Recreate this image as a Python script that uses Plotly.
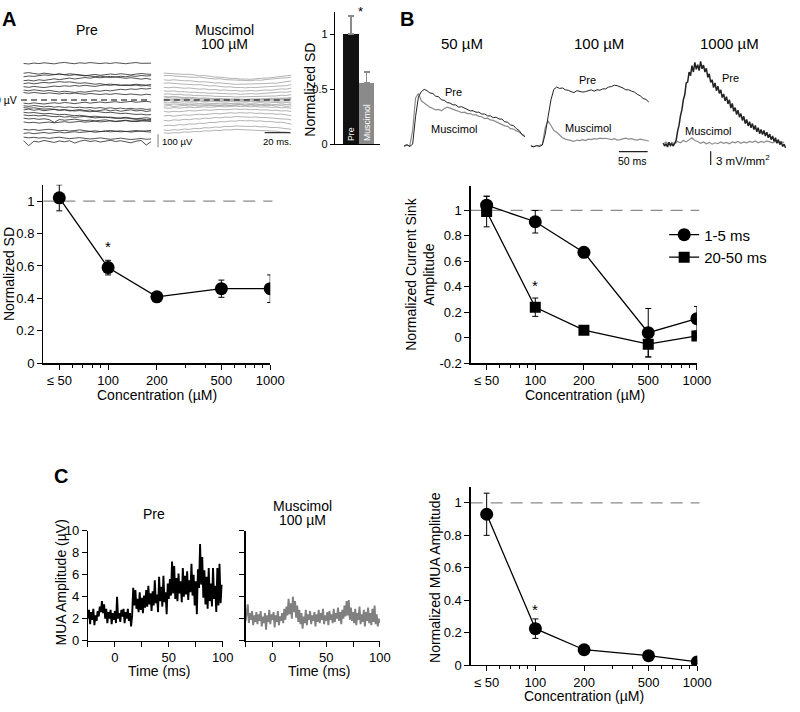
import plotly.graph_objects as go
import math

W, H = 800, 712
FONT = "Liberation Sans, Arial, sans-serif"

# ---------------- data ----------------
conc = [50, 100, 200, 500, 1000]
conc_labels = ["≤ 50", "100", "200", "500", "1000"]
conc_minor = [60, 70, 80, 90, 300, 400, 600, 700, 800, 900]

sd_mean = [1.02, 0.59, 0.41, 0.46, 0.46]
sd_err = [0.08, 0.045, 0.012, 0.053, 0.085]

sink_early = [1.04, 0.91, 0.67, 0.04, 0.15]
sink_early_err = [0.07, 0.088, 0.012, 0.19, 0.096]
sink_late = [0.99, 0.24, 0.06, -0.05, 0.015]
sink_late_err = [0.12, 0.072, 0.012, 0.10, 0.02]

mua_norm = [0.93, 0.225, 0.095, 0.058, 0.02]
mua_norm_err = [0.13, 0.06, 0.01, 0.01, 0.01]

bar_labels = ["Pre", "Muscimol"]
bar_values = [1.0, 0.558]
bar_err = [0.164, 0.095]

# A: example LFP sweeps (µV), sampled every 4 ms over 0-100 ms
sweep_t = [0, 4, 8, 12, 16, 20, 24, 28, 32, 36, 40, 44, 48, 52, 56, 60, 64, 68, 72, 76, 80, 84, 88, 92, 96, 100]
pre_sweeps = [
    [280, 276, 283, 279, 285, 281, 277, 284, 288, 282, 278, 285, 281, 287, 283, 279, 284, 280, 286, 282, 278, 283, 287, 281, 279, 282],
    [205, 210, 203, 198, 206, 201, 195, 199, 192, 188, 194, 190, 185, 191, 196, 189, 193, 199, 195, 201, 197, 192, 198, 203, 199, 196],
    [178, 184, 181, 187, 192, 189, 195, 199, 194, 201, 197, 192, 188, 184, 179, 183, 176, 172, 177, 170, 166, 171, 164, 160, 165, 158],
    [148, 152, 146, 155, 150, 158, 162, 156, 163, 168, 161, 166, 172, 167, 174, 170, 177, 181, 175, 182, 178, 185, 181, 188, 184, 186],
    [126, 131, 124, 129, 135, 130, 137, 141, 136, 139, 133, 128, 132, 126, 121, 125, 118, 122, 116, 112, 117, 110, 114, 108, 111, 106],
    [102, 97, 104, 99, 95, 101, 107, 103, 109, 105, 111, 106, 113, 108, 104, 111, 116, 112, 118, 114, 110, 116, 121, 117, 114, 119],
    [76, 71, 78, 73, 68, 74, 66, 61, 67, 62, 58, 64, 60, 66, 71, 67, 74, 70, 77, 82, 78, 85, 81, 88, 84, 90],
    [57, 52, 58, 54, 49, 55, 51, 46, 52, 48, 53, 49, 44, 50, 46, 42, 47, 43, 49, 45, 41, 46, 42, 38, 44, 40],
    [-24, -29, -22, -27, -31, -25, -21, -26, -19, -23, -28, -22, -17, -24, -20, -15, -21, -18, -13, -19, -15, -11, -17, -14, -10, -16],
    [-44, -49, -42, -47, -53, -48, -55, -51, -57, -53, -59, -55, -61, -57, -63, -58, -64, -60, -66, -62, -68, -64, -70, -66, -72, -69],
    [-58, -63, -60, -66, -70, -67, -73, -77, -74, -80, -84, -81, -87, -90, -86, -92, -97, -94, -100, -104, -101, -107, -111, -108, -114, -112],
    [-76, -70, -79, -73, -82, -77, -71, -80, -75, -84, -78, -73, -81, -76, -85, -79, -74, -83, -77, -86, -80, -75, -84, -79, -88, -82],
    [-94, -99, -96, -102, -106, -103, -109, -113, -110, -116, -120, -117, -123, -127, -124, -130, -134, -131, -137, -141, -138, -144, -148, -145, -151, -149],
    [-114, -120, -117, -122, -118, -124, -128, -125, -131, -127, -133, -129, -126, -132, -137, -134, -130, -136, -141, -137, -133, -139, -144, -140, -136, -142],
    [-139, -145, -142, -148, -144, -150, -172, -149, -155, -151, -147, -153, -158, -154, -160, -156, -152, -158, -163, -159, -155, -161, -166, -162, -158, -165],
    [-168, -174, -171, -177, -173, -169, -175, -170, -166, -172, -168, -164, -170, -166, -162, -168, -164, -160, -166, -162, -158, -164, -160, -156, -162, -158],
    [-224, -230, -226, -233, -228, -224, -231, -236, -232, -238, -234, -229, -235, -240, -236, -242, -238, -233, -239, -244, -240, -246, -241, -237, -243, -246],
    [-256, -251, -258, -253, -249, -255, -250, -246, -252, -247, -243, -249, -245, -241, -247, -243, -238, -244, -240, -236, -242, -238, -234, -240, -236, -233],
    [-284, -290, -286, -292, -288, -294, -289, -285, -291, -296, -292, -288, -294, -299, -295, -290, -296, -301, -297, -292, -298, -303, -299, -295, -301, -298],
    [-312, -350, -316, -322, -310, -318, -325, -314, -320, -312, -330, -316, -308, -318, -312, -322, -315, -309, -318, -312, -320, -328, -316, -310, -345, -318],
]
mus_sweeps = [
    [206, 203, 205, 199, 196, 197, 190, 186, 187, 180, 176, 175, 169, 166, 165, 160, 161, 158, 163, 166, 164, 171, 176, 178, 185, 191],
    [186, 189, 184, 181, 183, 176, 173, 175, 168, 165, 162, 163, 156, 155, 151, 149, 152, 148, 153, 151, 157, 158, 164, 168, 169, 176],
    [154, 151, 155, 150, 147, 148, 142, 139, 140, 133, 130, 131, 125, 124, 120, 121, 117, 119, 123, 120, 126, 129, 128, 135, 139, 146],
    [128, 131, 127, 124, 126, 119, 116, 118, 111, 108, 109, 102, 100, 101, 95, 96, 93, 97, 95, 99, 102, 100, 107, 111, 110, 118],
    [97, 94, 98, 94, 90, 92, 85, 83, 85, 79, 80, 75, 77, 71, 73, 68, 70, 73, 69, 73, 77, 75, 81, 85, 83, 92],
    [70, 67, 70, 63, 64, 59, 60, 55, 56, 51, 53, 49, 50, 46, 48, 44, 46, 49, 46, 49, 53, 51, 57, 61, 59, 66],
    [45, 47, 42, 44, 38, 39, 34, 35, 31, 32, 28, 29, 25, 26, 23, 24, 23, 26, 25, 28, 28, 32, 31, 36, 35, 41],
    [28, 24, 27, 22, 19, 21, 17, 14, 16, 12, 10, 12, 9, 7, 9, 6, 5, 8, 7, 10, 9, 13, 12, 16, 15, 20],
    [15, 18, 14, 16, 11, 13, 9, 10, 6, 8, 5, 6, 3, 4, 1, 3, 2, 5, 3, 6, 5, 8, 7, 11, 9, 13],
    [3, 6, 1, 4, 0, 2, -2, 1, -3, 0, -4, -1, -5, -2, -6, -3, -4, -1, -3, 0, -2, 2, 0, 4, 2, 5],
    [-8, -5, -10, -6, -11, -8, -12, -9, -13, -10, -14, -11, -15, -12, -15, -12, -14, -11, -13, -10, -12, -8, -10, -7, -9, -6],
    [-19, -23, -18, -22, -25, -21, -24, -27, -23, -26, -28, -24, -27, -25, -28, -25, -22, -26, -23, -20, -24, -21, -18, -22, -19, -22],
    [-31, -35, -30, -34, -37, -33, -36, -39, -35, -38, -36, -39, -37, -40, -37, -34, -38, -35, -32, -36, -33, -37, -34, -31, -35, -32],
    [-47, -43, -49, -45, -42, -46, -43, -47, -44, -41, -45, -42, -39, -43, -40, -37, -41, -38, -42, -39, -44, -41, -46, -43, -48, -46],
    [-60, -64, -58, -62, -59, -55, -59, -56, -52, -56, -53, -49, -53, -50, -47, -51, -48, -52, -50, -54, -52, -57, -55, -60, -58, -63],
    [-88, -92, -86, -90, -86, -81, -84, -80, -76, -79, -75, -72, -75, -71, -69, -72, -70, -74, -72, -77, -75, -80, -78, -84, -82, -89],
    [-122, -118, -124, -119, -114, -117, -112, -109, -112, -107, -103, -106, -101, -98, -101, -97, -100, -98, -103, -101, -106, -104, -109, -108, -114, -120],
    [-156, -160, -152, -155, -148, -151, -144, -146, -139, -141, -134, -137, -130, -133, -127, -130, -128, -132, -130, -135, -134, -139, -139, -145, -146, -153],
    [-197, -193, -197, -189, -191, -184, -185, -178, -179, -172, -173, -166, -167, -161, -162, -157, -160, -158, -162, -160, -166, -165, -171, -170, -177, -186],
    [-230, -233, -227, -230, -223, -225, -218, -220, -212, -214, -207, -209, -202, -204, -199, -201, -199, -203, -201, -206, -205, -211, -210, -216, -217, -225],
    [-252, -255, -250, -252, -245, -247, -241, -243, -236, -238, -232, -234, -228, -230, -225, -227, -226, -230, -229, -234, -234, -239, -239, -245, -246, -254],
]

# B: current sink traces (mV/mm^2)
b50_t0, b50_step = -15, 5
b50_pre = [0.0, 0.3, -0.1, 0.4, 6.4, 10.7, 11.9, 12.4, 12.1, 11.6, 11.5, 10.9, 10.8, 10.1, 10.0, 9.5, 9.4, 9.0, 9.0, 8.5, 8.6, 8.3,
           8.1, 7.7, 7.7, 7.4, 7.4, 7.0, 7.0, 6.6, 6.6, 6.2, 6.3, 5.9, 5.9, 5.3, 5.2, 4.6, 4.5, 3.8, 3.4, 2.5, 2.0]
b50_mus = [-0.1, 0.2, 0.0, 3.5, 10.5, 11.5, 9.9, 9.4, 9.0, 8.5, 8.2, 7.9, 8.0, 7.7, 8.2, 8.5, 8.3, 8.0, 7.8, 7.6, 7.3, 7.4,
           7.1, 7.1, 6.8, 6.8, 6.5, 6.4, 6.0, 6.1, 5.7, 5.6, 5.3, 5.0, 4.8, 4.4, 4.3, 3.8, 3.7, 3.3, 3.1, 2.5, 2.3]
b100_t0, b100_step = -20, 5
b100_pre = [0.0, -0.2, 0.1, -0.1, 0.2, 2.6, 6.4, 10.1, 12.4, 12.9, 12.6, 12.7, 12.3, 12.2, 11.9, 11.7, 12.1, 12.0, 11.8, 11.9, 12.1,
            12.3, 12.0, 12.3, 12.2, 12.5, 12.5, 12.9, 13.0, 13.3, 13.2, 13.0, 12.7, 12.3, 12.3, 12.0, 11.8, 11.3, 11.0, 10.4, 10.2, 9.6]
b100_mus = [0.1, -0.1, 0.0, 0.2, 0.3, 4.0, 5.5, 4.5, 3.4, 3.0, 2.4, 1.8, 1.5, 1.3, 1.2, 1.0, 1.3, 1.2, 1.4, 1.2, 1.5,
            1.4, 1.6, 1.5, 1.7, 1.6, 1.7, 1.5, 1.4, 1.6, 1.3, 1.4, 1.6, 1.7, 1.5, 1.6, 1.4, 1.3, 1.5, 1.4, 1.2, 1.1]
b1000_t0, b1000_pre_step, b1000_mus_step = -20, 2.5, 5
b1000_pre = [0.6, 0.0, 0.5, -0.2, 0.8, 0.1, 0.5, 0.0, 0.6, 1.2, 3.2, 4.5, 6.6, 7.9, 10.1, 11.2, 13.8, 14.0, 16.2, 15.4,
             17.6, 16.2, 18.3, 16.8, 17.8, 16.5, 18.5, 16.9, 17.7, 16.2, 17.0, 15.0, 15.8, 13.9, 14.5, 12.8, 13.8, 12.1, 13.1, 11.5,
             12.3, 10.6, 11.4, 9.9, 10.8, 9.2, 10.1, 8.3, 9.3, 7.6, 8.4, 6.9, 7.8, 6.3, 7.1, 5.6, 6.5, 4.9, 5.8, 4.4,
             5.3, 4.0, 4.9, 3.6, 4.5, 3.1, 4.0, 2.7, 3.6, 2.5, 3.4, 2.2, 3.0, 1.8, 2.6, 1.4, 2.2, 1.0, 1.8, 0.6,
             1.4, 0.3, 0.9, -0.1, 0.4, -0.4]
b1000_mus = [0.5, 0.9, 0.3, 0.8, 0.5, 1.0, 0.7, 1.2, 0.9, 1.4, 1.8, 1.2, 1.0, 0.6, 0.9, 0.5, 0.8, 0.4, 0.7, 0.5, 0.9, 0.6,
             0.8, 0.5, 0.9, 0.7, 1.0, 0.6, 0.9, 0.7, 1.0, 0.8, 1.1, 0.7, 1.0, 0.8, 1.1, 0.9, 0.7, 1.0, 0.8, 1.0, 0.7]

# C: MUA traces (µV), 1 ms bins from -25 to 100 ms
mua_t0 = -25
mua_pre = [2.0, 2.8, 1.5, 2.6, 1.9, 2.9, 1.4, 2.3, 1.8, 2.7,
           2.2, 3.1, 2.6, 3.6, 2.5, 3.3, 2.0, 2.9, 1.6, 2.6,
           2.0, 2.8, 1.5, 2.5, 1.9, 2.7, 1.6, 4.0, 2.0, 2.5,
           1.7, 2.8, 2.2, 2.9, 1.6, 2.6, 2.0, 2.9, 1.8, 2.5,
           1.3, 2.3, 4.8, 3.2, 4.6, 2.9, 3.8, 2.6, 4.4, 2.8,
           3.9, 2.5, 4.1, 3.0, 4.6, 3.1, 5.0, 3.3, 4.3, 2.7,
           4.5, 3.2, 5.5, 3.4, 4.2, 2.6, 5.8, 3.6, 4.9, 3.1,
           5.9, 3.5, 4.4, 2.4, 5.2, 3.8, 5.6, 4.1, 7.2, 4.3,
           6.8, 3.8, 5.7, 3.6, 6.1, 4.3, 5.4, 3.5, 6.6, 4.0,
           5.9, 4.2, 6.3, 3.7, 5.5, 4.4, 7.0, 4.1, 6.0, 3.2,
           5.4, 2.4, 6.5, 4.8, 8.8, 5.1, 7.6, 3.9, 6.4, 3.3,
           5.8, 2.9, 6.6, 3.6, 5.2, 3.1, 6.6, 3.8, 5.0, 2.6,
           6.6, 3.2, 7.0, 3.4, 5.0, 5.0]
mua_mus = [1.8, 2.6, 3.3, 1.6, 2.5, 1.9, 2.7, 1.4, 2.3, 1.7,
           2.6, 1.5, 2.4, 1.8, 2.7, 1.3, 2.2, 1.6, 2.5, 1.0,
           2.3, 1.7, 2.8, 1.5, 2.4, 1.9, 2.6, 1.2, 2.3, 1.7,
           2.7, 1.4, 2.2, 1.8, 2.5, 1.6, 2.9, 1.9, 3.1, 2.3,
           3.8, 2.4, 3.4, 2.0, 4.0, 2.6, 3.6, 2.1, 3.2, 1.7,
           2.8, 1.5, 2.5, 1.1, 2.2, 1.6, 2.8, 1.4, 2.4, 1.9,
           2.7, 1.5, 2.3, 1.8, 2.6, 1.3, 2.4, 1.7, 2.8, 1.6,
           2.5, 1.9, 2.9, 1.5, 2.3, 1.8, 2.6, 1.4, 2.7, 1.9,
           2.4, 1.6, 2.9, 1.7, 2.5, 2.0, 3.0, 1.8, 2.6, 1.5,
           2.8, 2.0, 3.2, 2.2, 3.6, 2.3, 3.7, 1.9, 3.0, 1.8,
           2.6, 1.6, 2.9, 1.4, 2.5, 1.9, 3.1, 1.5, 2.4, 1.7,
           2.8, 1.3, 2.6, 1.8, 3.0, 1.6, 2.5, 1.4, 2.9, 1.7,
           3.2, 1.5, 2.4, 1.3, 2.0, 1.6]


# ---------------- helpers ----------------
def xdom(a, b):
    return [a / W, b / W]


def ydom(top, bottom):
    return [1 - bottom / H, 1 - top / H]


def PX(x):
    return x / W


def PY(y):
    return 1 - y / H


def times(t0, step, n):
    return [t0 + step * i for i in range(n)]


fig = go.Figure()
layout_axes = {}


def ref(i, kind):
    return kind + ("" if i == 1 else str(i))


def set_axes(i, xa, ya):
    xa = dict(xa)
    ya = dict(ya)
    xa["anchor"] = ref(i, "y")
    ya["anchor"] = ref(i, "x")
    layout_axes[ref(i, "xaxis")] = xa
    layout_axes[ref(i, "yaxis")] = ya


def hidden(dom, rng):
    return dict(domain=dom, range=rng, visible=False, fixedrange=True)


AX = dict(showline=True, linecolor="black", linewidth=1.2, ticks="outside", ticklen=5, tickwidth=1,
          tickcolor="black", showgrid=False, zeroline=False, fixedrange=True,
          tickfont=dict(size=13, color="black", family=FONT))

# ---- A: sweeps ----
A_Y = [-375, 337.5]
set_axes(1, hidden(xdom(21.4, 154), [-2, 100]), hidden(ydom(50, 145), A_Y))
set_axes(2, hidden(xdom(160.2, 296.7), [-5, 100]), hidden(ydom(50, 145), A_Y))
for s in pre_sweeps:
    fig.add_trace(go.Scatter(x=sweep_t, y=s, mode="lines", line=dict(color="#262626", width=0.8),
                             xaxis="x", yaxis="y", showlegend=False, hoverinfo="skip"))
for s in mus_sweeps:
    fig.add_trace(go.Scatter(x=sweep_t, y=s, mode="lines", line=dict(color="#a0a0a0", width=0.8),
                             xaxis="x2", yaxis="y2", showlegend=False, hoverinfo="skip"))

# ---- A: bar ----
set_axes(3,
         dict(domain=xdom(341, 386.7), range=[-1.02, 1.856], showline=True, linecolor="black", linewidth=1.2,
              showticklabels=False, ticks="", showgrid=False, zeroline=False, fixedrange=True),
         dict(AX, domain=ydom(5.2, 140), range=[0, 1.2], tickvals=[0, 0.5, 1], ticktext=["0", "0.5", "1"],
              ticklen=4, tickfont=dict(size=11, color="black", family=FONT)))
fig.add_trace(go.Bar(x=[0, 1], y=bar_values, width=1, marker=dict(color=["#111111", "#8a8a8a"], line=dict(width=0)),
                     error_y=dict(type="data", array=bar_err, color="#8a8a8a", thickness=1.5, width=3, symmetric=False,
                                  arrayminus=[0, 0]),
                     text=bar_labels, textposition="inside", insidetextanchor="start", textangle=-90,
                     insidetextfont=dict(color="white", size=10, family=FONT),
                     xaxis="x3", yaxis="y3", showlegend=False, hoverinfo="skip"))

# ---- concentration-response charts ----
LOGR = [math.log10(39.8), 3.0]
conc_x = dict(AX, type="log", range=LOGR, tickvals=conc, ticktext=conc_labels,
              minor=dict(tickmode="array", tickvals=conc_minor, ticks="outside", ticklen=3, tickcolor="black"))

set_axes(4, dict(conc_x, domain=xdom(44, 275)),
         dict(AX, domain=ydom(181.7, 364), range=[0, 1.1], tickvals=[0, 0.2, 0.4, 0.6, 0.8, 1],
              ticktext=["0", "0.2", "0.4", "0.6", "0.8", "1"]))
set_axes(8, dict(conc_x, domain=xdom(479, 709.3)),
         dict(AX, domain=ydom(182.9, 364), range=[-0.2, 1.19], tickvals=[-0.2, 0, 0.2, 0.4, 0.6, 0.8, 1],
              ticktext=["-0.2", "0", "0.2", "0.4", "0.6", "0.8", "1"]))
set_axes(11, dict(conc_x, domain=xdom(479, 709.7)),
         dict(AX, domain=ydom(490, 672.3), range=[0, 1.1], tickvals=[0, 0.2, 0.4, 0.6, 0.8, 1],
              ticktext=["0", "0.2", "0.4", "0.6", "0.8", "1"]))

EB = dict(type="data", color="black", thickness=1, width=3)


def dose_trace(y, err, axis_i, symbol="circle", size=13, name=None, legend=False):
    return go.Scatter(x=conc, y=y, mode="lines+markers", name=name, showlegend=legend,
                      line=dict(color="black", width=1.3),
                      marker=dict(symbol=symbol, size=size, color="black"),
                      error_y=dict(EB, array=err),
                      xaxis=ref(axis_i, "x"), yaxis=ref(axis_i, "y"), hoverinfo="skip")


fig.add_trace(dose_trace(sd_mean, sd_err, 4))
fig.add_trace(dose_trace(sink_early, sink_early_err, 8, name="1-5 ms", legend=True))
fig.add_trace(dose_trace(sink_late, sink_late_err, 8, symbol="square", size=11, name="20-50 ms", legend=True))
fig.add_trace(dose_trace(mua_norm, mua_norm_err, 11))

# ---- B: sink traces ----
B_Y = [-4.93, 19.71]
set_axes(5, hidden(xdom(405, 540), [-25.6, 204.8]), hidden(ydom(50, 165), B_Y))
set_axes(6, hidden(xdom(535, 670), [-29, 201.4]), hidden(ydom(50, 165), B_Y))
set_axes(7, hidden(xdom(670, 800), [-28.5, 193.3]), hidden(ydom(50, 165), B_Y))

PRE_C, MUS_C = "#222222", "#8c8c8c"
bsets = [
    (5, b50_t0, b50_step, b50_pre, b50_step, b50_mus),
    (6, b100_t0, b100_step, b100_pre, b100_step, b100_mus),
    (7, b1000_t0, b1000_pre_step, b1000_pre, b1000_mus_step, b1000_mus),
]
for i, t0, sp, pre, sm, mus in bsets:
    fig.add_trace(go.Scatter(x=times(t0, sm, len(mus)), y=mus, mode="lines", line=dict(color=MUS_C, width=1.2),
                             xaxis=ref(i, "x"), yaxis=ref(i, "y"), showlegend=False, hoverinfo="skip"))
    fig.add_trace(go.Scatter(x=times(t0, sp, len(pre)), y=pre, mode="lines",
                             line=dict(color=PRE_C, width=1.5 if i == 7 else 1.0),
                             xaxis=ref(i, "x"), yaxis=ref(i, "y"), showlegend=False, hoverinfo="skip"))

# ---- C: MUA traces ----
mua_y = dict(AX, domain=ydom(535, 647.3), range=[0, 10], tickvals=[0, 2, 4, 6, 8, 10])
mua_x = dict(AX, range=[-25, 100], tickvals=[0, 50, 100],
             minor=dict(tickmode="array", tickvals=[-25, 25, 75], ticks="outside", ticklen=5, tickcolor="black"))
set_axes(9, dict(mua_x, domain=xdom(89.5, 226.7)), mua_y)
set_axes(10, dict(mua_x, domain=xdom(250, 386.7)), dict(mua_y, showticklabels=False))
fig.add_trace(go.Scatter(x=times(mua_t0, 1, len(mua_pre)), y=mua_pre, mode="lines", line=dict(color="black", width=1.9),
                         xaxis="x9", yaxis="y9", showlegend=False, hoverinfo="skip"))
fig.add_trace(go.Scatter(x=times(mua_t0, 1, len(mua_mus)), y=mua_mus, mode="lines", line=dict(color="#808080", width=1.9),
                         xaxis="x10", yaxis="y10", showlegend=False, hoverinfo="skip"))

# ---------------- shapes ----------------
shapes = []
dash_gray = dict(color="#8a8a8a", width=1.2, dash="12px,8px")
for i in (4, 8, 11):
    shapes.append(dict(type="line", xref=ref(i, "x") + " domain", x0=0, x1=1.01, yref=ref(i, "y"), y0=1, y1=1,
                       line=dash_gray, layer="below"))
shapes.append(dict(type="line", xref="x", x0=-2, x1=100, yref="y", y0=0, y1=0,
                   line=dict(color="black", width=1.2, dash="6px,4px")))
shapes.append(dict(type="line", xref="x2", x0=0, x1=100, yref="y2", y0=0, y1=0,
                   line=dict(color="black", width=1.2, dash="6px,4px")))
shapes.append(dict(type="line", xref="x2", x0=-4.6, x1=-4.6, yref="y2", y0=-262, y1=-362, line=dict(color="#555", width=1)))
shapes.append(dict(type="line", xref="x2", x0=79, x1=99, yref="y2", y0=-250, y1=-250, line=dict(color="#333", width=1.2)))
shapes.append(dict(type="line", xref="x6", x0=133, x1=183, yref="y6", y0=-1.22, y1=-1.22, line=dict(color="#222", width=1.2)))
shapes.append(dict(type="line", xref="x7", x0=62.5, x1=62.5, yref="y7", y0=-1.15, y1=-4.15, line=dict(color="#222", width=1.2)))

# ---------------- annotations ----------------
ann = []


def txt(x, y, s, size=14, anchor="center", angle=0, bold=False, color="black"):
    ann.append(dict(x=PX(x), y=PY(y), xref="paper", yref="paper", text=("<b>%s</b>" % s) if bold else s,
                    showarrow=False, xanchor=anchor, yanchor="middle", textangle=angle,
                    font=dict(size=size, color=color, family=FONT)))


txt(0, 12, "A", 20, anchor="left", bold=True)
txt(405, 12, "B", 20, anchor="left", bold=True)
txt(53, 479, "C", 20, anchor="left", bold=True)

txt(89, 23.3, "Pre", 14)
txt(228, 23.3, "Muscimol", 14)
txt(228, 37.5, "100 µM", 14)
txt(19, 95, "0 µV", 10.5, anchor="right")
txt(163, 137, "100 µV", 9.5, anchor="left")
txt(282, 137, "20 ms.", 9.5)
txt(316, 84, "Normalized SD", 14, angle=-90)
txt(366.7, 5, "*", 13)

txt(9, 273, "Normalized SD", 14, angle=-90)
txt(160, 396, "Concentration (µM)", 14)
ann.append(dict(x=math.log10(conc[1]), y=sd_mean[1] + 0.13, xref="x4", yref="y4", text="*", showarrow=False,
                font=dict(size=15, color="black", family=FONT)))

txt(470, 37.3, "50 µM", 15)
txt(610, 37.3, "100 µM", 15)
txt(743, 37.3, "1000 µM", 15)
txt(462, 87.3, "Pre", 11)
txt(462, 125, "Muscimol", 11)
txt(598, 74.5, "Pre", 11)
txt(598, 124, "Muscimol", 11)
txt(743.5, 72.7, "Pre", 11)
txt(721, 126.5, "Muscimol", 11)
txt(644, 157, "50 ms", 10.5)
txt(727, 156, "3 mV/mm<sup>2</sup>", 11.5, anchor="left")

txt(428, 273, "Normalized Current Sink<br>Amplitude", 14, angle=-90)
txt(595, 396, "Concentration (µM)", 14)
ann.append(dict(x=math.log10(conc[1]), y=sink_late[1] + 0.17, xref="x8", yref="y8", text="*", showarrow=False,
                font=dict(size=15, color="black", family=FONT)))

txt(156.7, 518.3, "Pre", 14)
txt(308.3, 509.3, "Muscimol", 14)
txt(308.3, 524, "100 µM", 14)
txt(62, 588, "MUA Amplitude (µV)", 14, angle=-90)
txt(162, 678, "Time (ms)", 14)
txt(325, 678, "Time (ms)", 14)
txt(442, 583, "Normalized MUA Amplitude", 14, angle=-90)
txt(594, 704, "Concentration (µM)", 14)
ann.append(dict(x=math.log10(conc[1]), y=mua_norm[1] + 0.12, xref="x11", yref="y11", text="*", showarrow=False,
                font=dict(size=15, color="black", family=FONT)))

fig.update_layout(
    width=W, height=H, margin=dict(l=0, r=0, t=0, b=0),
    paper_bgcolor="white", plot_bgcolor="rgba(0,0,0,0)",
    font=dict(family=FONT, color="black", size=13),
    bargap=0,
    shapes=shapes, annotations=ann,
    legend=dict(x=PX(676), y=PY(216), xanchor="left", yanchor="top", bgcolor="rgba(0,0,0,0)",
                font=dict(size=15, family=FONT, color="black"), itemwidth=30, tracegroupgap=0),
    **layout_axes,
)

fig.write_html("out.html", config={"displayModeBar": False, "staticPlot": True},
               post_script="document.body.style.margin='0px';document.body.style.overflow='hidden';")
